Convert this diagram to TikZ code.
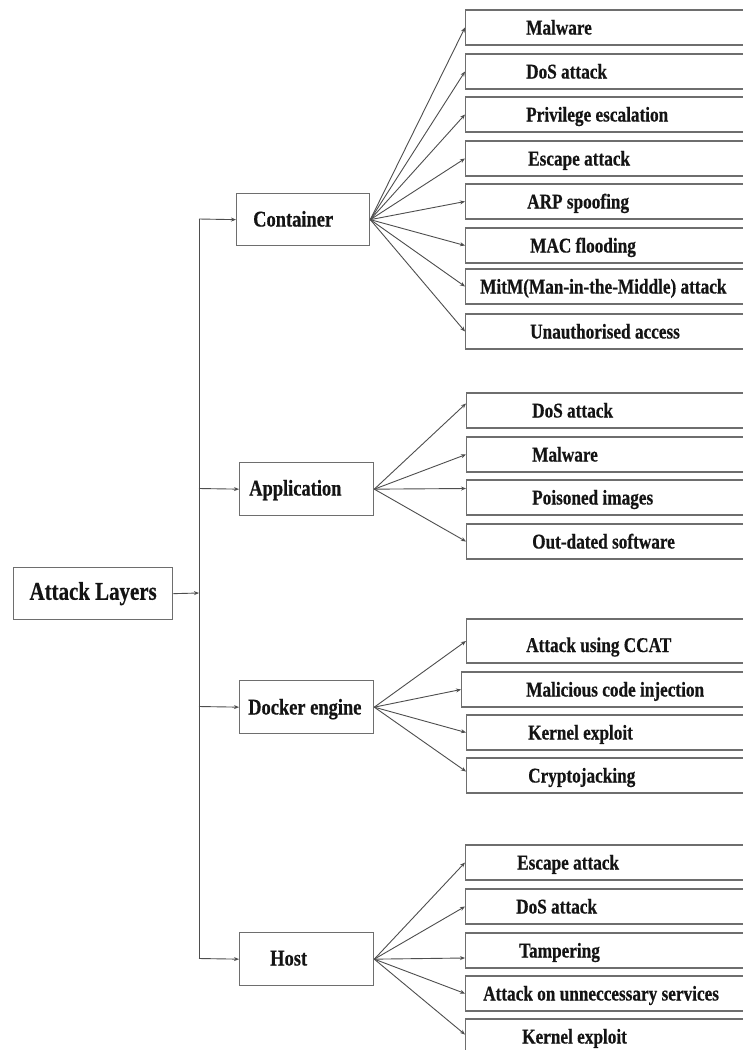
\documentclass[tikz,border=0pt]{standalone}
\usepackage{fontspec}
\setmainfont[FakeStretch=0.82, BoldFeatures={FakeBold=0.5}]{Liberation Serif}
\usetikzlibrary{arrows.meta}
\definecolor{boxc}{HTML}{6E6E6E}
\definecolor{linec}{HTML}{4E4E4E}
\definecolor{txtc}{HTML}{141414}
\begin{document}
\begin{tikzpicture}[x=1pt,y=-1pt,
  leafbox/.style={draw=boxc, line width=1.3pt, rectangle, anchor=west, minimum width=290pt, minimum height=35pt, inner sep=0pt},
  catbox/.style={draw=boxc, line width=1.3pt, rectangle, anchor=north west, inner sep=0pt, minimum width=134pt, minimum height=53pt},
  lbl/.style={anchor=base west, inner sep=0pt, text=txtc, font=\bfseries\fontsize{21}{24}\selectfont},
  catlbl/.style={anchor=base west, inner sep=0pt, text=txtc, font=\bfseries\fontsize{22.5}{26}\selectfont},
  conn/.style={draw=linec, line width=0.9pt, -{Stealth[length=5pt,width=4pt]}},
  trunk/.style={draw=linec, line width=0.9pt},
]
\useasboundingbox (0,0) rectangle (743,1050);
\fill[white] (0,0) rectangle (743,1050);
\clip (0,0) rectangle (743,1050);

% root
\node[draw=boxc, line width=1.3pt, rectangle, anchor=north west, minimum width=159pt, minimum height=52pt, inner sep=0pt,
      text=txtc, font=\bfseries\fontsize{25.5}{28}\selectfont] (root) at (13,567) {Attack Layers};

% categories
\node[catbox, minimum width=133pt, minimum height=52pt] (cont) at (236,193) {};
\node[catlbl] (contl) at (253,226.5) {Container};
\node[catbox] (app) at (239,462) {};
\node[catlbl] (appl) at (249,495.5) {Application};
\node[catbox] (dock) at (239,680) {};
\node[catlbl] (dockl) at (248,714.5) {Docker engine};
\node[catbox] (host) at (239,932) {};
\node[catlbl] (hostl) at (270,965.5) {Host};

% trunk
\coordinate (t1) at (199,219);
\coordinate (t2) at (199,488.5);
\coordinate (tm) at (199,593);
\coordinate (t3) at (199,706.5);
\coordinate (t4) at (199,958.5);
\draw[trunk] (t1) -- (t4);
\draw[conn] (root.east) -- (tm);
\draw[conn] (t1) -- (cont.west);
\draw[conn] (t2) -- (app.west);
\draw[conn] (t3) -- (dock.west);
\draw[conn] (t4) -- (host.west);

% Container leaves
\node[leafbox] (c1) at (465,27.5) {};  \node[lbl] (c1l) at (526,34.5) {Malware};
\node[leafbox] (c2) at (465,71.5) {};  \node[lbl] (c2l) at (526,78.5) {DoS attack};
\node[leafbox] (c3) at (465,114.5) {}; \node[lbl] (c3l) at (526,121.5) {Privilege escalation};
\node[leafbox] (c4) at (465,158.5) {}; \node[lbl] (c4l) at (528,165.5) {Escape attack};
\node[leafbox] (c5) at (465,201.5) {}; \node[lbl] (c5l) at (527,208.5) {ARP spoofing};
\node[leafbox] (c6) at (465,245.5) {}; \node[lbl] (c6l) at (530,252.5) {MAC flooding};
\node[leafbox] (c7) at (465,286.5) {}; \node[lbl] (c7l) at (480,293.5) {MitM(Man-in-the-Middle) attack};
\node[leafbox] (c8) at (465,331.5) {}; \node[lbl] (c8l) at (530,338.5) {Unauthorised access};
\foreach \i in {1,...,8} \draw[conn] (cont.east) -- (c\i.west);

% Application leaves
\node[leafbox] (a1) at (466,410.5) {}; \node[lbl] (a1l) at (532,417.5) {DoS attack};
\node[leafbox] (a2) at (466,454.5) {}; \node[lbl] (a2l) at (532,461.5) {Malware};
\node[leafbox] (a3) at (466,497.5) {}; \node[lbl] (a3l) at (532,504.5) {Poisoned images};
\node[leafbox] (a4) at (466,541.5) {}; \node[lbl] (a4l) at (532,548.5) {Out-dated software};
\draw[conn] (app.east) -- ([yshift=7pt]a1.west);
\draw[conn] (app.east) -- (a2.west);
\draw[conn] (app.east) -- ([yshift=9pt]a3.west);
\draw[conn] (app.east) -- (a4.west);

% Docker engine leaves
\node[leafbox, minimum height=44pt] (d1) at (466,641) {}; \node[lbl] (d1l) at (526,652) {Attack using CCAT};
\node[leafbox] (d2) at (461,689.5) {}; \node[lbl] (d2l) at (526,696.5) {Malicious code injection};
\node[leafbox] (d3) at (466,732.5) {}; \node[lbl] (d3l) at (528,739.5) {Kernel exploit};
\node[leafbox] (d4) at (466,775.5) {}; \node[lbl] (d4l) at (528,782.5) {Cryptojacking};
\draw[conn] (dock.east) -- (d1.west);
\draw[conn] (dock.east) -- (d2.west);
\draw[conn] (dock.east) -- (d3.west);
\draw[conn] (dock.east) -- ([yshift=4pt]d4.west);

% Host leaves
\node[leafbox] (h1) at (465,862.5) {};  \node[lbl] (h1l) at (517,869.5) {Escape attack};
\node[leafbox] (h2) at (465,906.5) {};  \node[lbl] (h2l) at (516,913.5) {DoS attack};
\node[leafbox] (h3) at (465,950.5) {};  \node[lbl] (h3l) at (519,957.5) {Tampering};
\node[leafbox] (h4) at (465,993.5) {};  \node[lbl] (h4l) at (483,1000.5) {Attack on unneccessary services};
\node[leafbox] (h5) at (465,1036.5) {}; \node[lbl] (h5l) at (522,1043.5) {Kernel exploit};
\draw[conn] (host.east) -- (h1.west);
\draw[conn] (host.east) -- (h2.west);
\draw[conn] (host.east) -- ([yshift=-7.5pt]h3.west);
\draw[conn] (host.east) -- (h4.west);
\draw[conn] (host.east) -- ([yshift=2pt]h5.west);
\end{tikzpicture}
\end{document}
